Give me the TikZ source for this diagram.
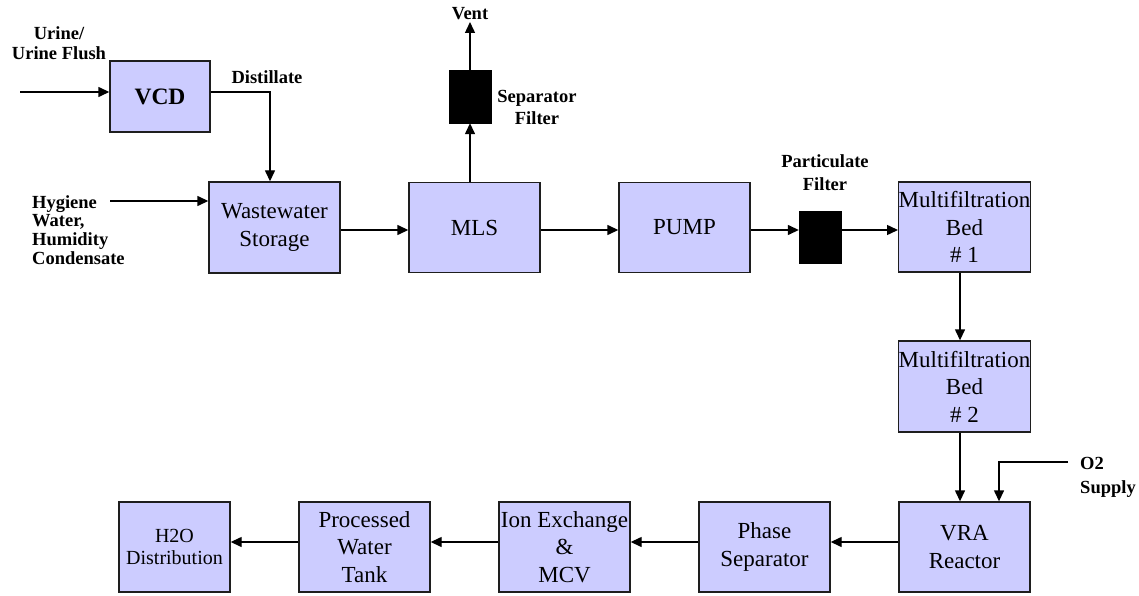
\documentclass[tikz,border=0pt]{standalone}
\usepackage{fontspec}
\setmainfont{LiberationSerif}[Extension=.ttf,UprightFont=*-Regular,BoldFont=*-Bold,ItalicFont=*-Italic,BoldItalicFont=*-BoldItalic]
\usetikzlibrary{arrows.meta}
\definecolor{boxfill}{HTML}{CCCCFF}
\definecolor{boxline}{HTML}{1E1E1E}
\begin{document}
\begin{tikzpicture}[x=1pt,y=-1pt,
  box/.style={draw=boxline,fill=boxfill,line width=1.4pt,inner sep=0pt,align=center,
    font=\fontsize{23}{27.5}\selectfont},
  filt/.style={fill=black,draw=black,inner sep=0pt},
  lbl/.style={inner sep=0pt,font=\bfseries\fontsize{18.5}{20.5}\selectfont},
  arr/.style={line width=1.4pt,-{Triangle[length=11pt,width=10pt]}},
  ln/.style={line width=1.4pt}]
\useasboundingbox (0,0) rectangle (1139,596);
\fill[white] (0,0) rectangle (1139,596);
% boxes
\node[box,minimum width=100pt,minimum height=71pt,font=\bfseries\fontsize{23.5}{26}\selectfont] (vcd) at (160,96.5) {VCD};
\node[box,minimum width=131pt,minimum height=91pt] (ws) at (274.5,227.5) {Wastewater\\Storage};
\node[box,minimum width=131pt,minimum height=90pt] (mls) at (474.5,227.5) {MLS};
\node[box,minimum width=131pt,minimum height=90pt] (pump) at (684.5,227.5) {PUMP};
\node[filt,minimum width=42pt,minimum height=53pt] (sf) at (470,96.5) {};
\node[filt,minimum width=42pt,minimum height=52pt] (pf) at (820,237) {};
\node[box,minimum width=131pt,minimum height=90pt] (bed1) at (964.5,227) {Multifiltration\\Bed\\\# 1};
\node[box,minimum width=131pt,minimum height=91pt] (bed2) at (964.5,386.5) {Multifiltration\\Bed\\\# 2};
\node[box,minimum width=131pt,minimum height=90pt] (vra) at (964.5,547) {VRA\\Reactor};
\node[box,minimum width=131pt,minimum height=90pt] (phase) at (764.5,547) {Phase\\Separator};
\node[box,minimum width=131pt,minimum height=90pt] (ion) at (564.5,547) {Ion Exchange\\\&\\MCV};
\node[box,minimum width=131pt,minimum height=90pt] (pwt) at (364.5,547) {Processed\\Water\\Tank};
\node[box,minimum width=111pt,minimum height=90pt,font=\fontsize{20}{22.5}\selectfont] (h2o) at (174.5,547) {H2O\\Distribution};
% labels
\node[lbl,align=center,font=\bfseries\fontsize{18.5}{20}\selectfont] (urine) at (59,43) {Urine/\\Urine Flush};
\node[lbl] (dist) at (267,77) {Distillate};
\node[lbl,align=left,anchor=west,font=\bfseries\fontsize{18.5}{18.8}\selectfont] (hyg) at (32,230) {Hygiene\\Water,\\Humidity\\Condensate};
\node[lbl] (vent) at (470,14) {Vent};
\node[lbl,align=center,font=\bfseries\fontsize{18.5}{22}\selectfont] (sflbl) at (537,107) {Separator\\Filter};
\node[lbl,align=center,font=\bfseries\fontsize{18.5}{23}\selectfont] (pflbl) at (825,172.5) {Particulate\\Filter};
\node[lbl,align=left,anchor=west,font=\bfseries\fontsize{18.5}{24}\selectfont] (o2lbl) at (1080,477) {O2\\Supply};
% helper coordinates
\coordinate (uin) at (20,92);
\coordinate (hin) at (110,201);
\coordinate (dx) at (270,0);
\coordinate (row) at (0,230);
\coordinate (vx) at (470,0);
\coordinate (ventend) at (470,22);
\coordinate (bx) at (960,0);
\coordinate (o2) at (1068,462);
\coordinate (o2x) at (999,0);
\coordinate (brow) at (0,542);
% connectors
\draw[arr] (uin) -- (vcd.west |- uin);
\draw[arr] (vcd.east |- uin) -| (ws.north -| dx);
\draw[arr] (hin) -- (ws.west |- hin);
\draw[arr] (ws.east |- row) -- (mls.west |- row);
\draw[arr] (mls.east |- row) -- (pump.west |- row);
\draw[arr] (pump.east |- row) -- (pf.west |- row);
\draw[arr] (pf.east |- row) -- (bed1.west |- row);
\draw[arr] (mls.north -| vx) -- (sf.south);
\draw[arr] (sf.north) -- (ventend);
\draw[arr] (bed1.south -| bx) -- (bed2.north -| bx);
\draw[arr] (bed2.south -| bx) -- (vra.north -| bx);
\draw[arr] (o2) -| (vra.north -| o2x);
\draw[arr] (vra.west |- brow) -- (phase.east |- brow);
\draw[arr] (phase.west |- brow) -- (ion.east |- brow);
\draw[arr] (ion.west |- brow) -- (pwt.east |- brow);
\draw[arr] (pwt.west |- brow) -- (h2o.east |- brow);
\end{tikzpicture}
\end{document}
